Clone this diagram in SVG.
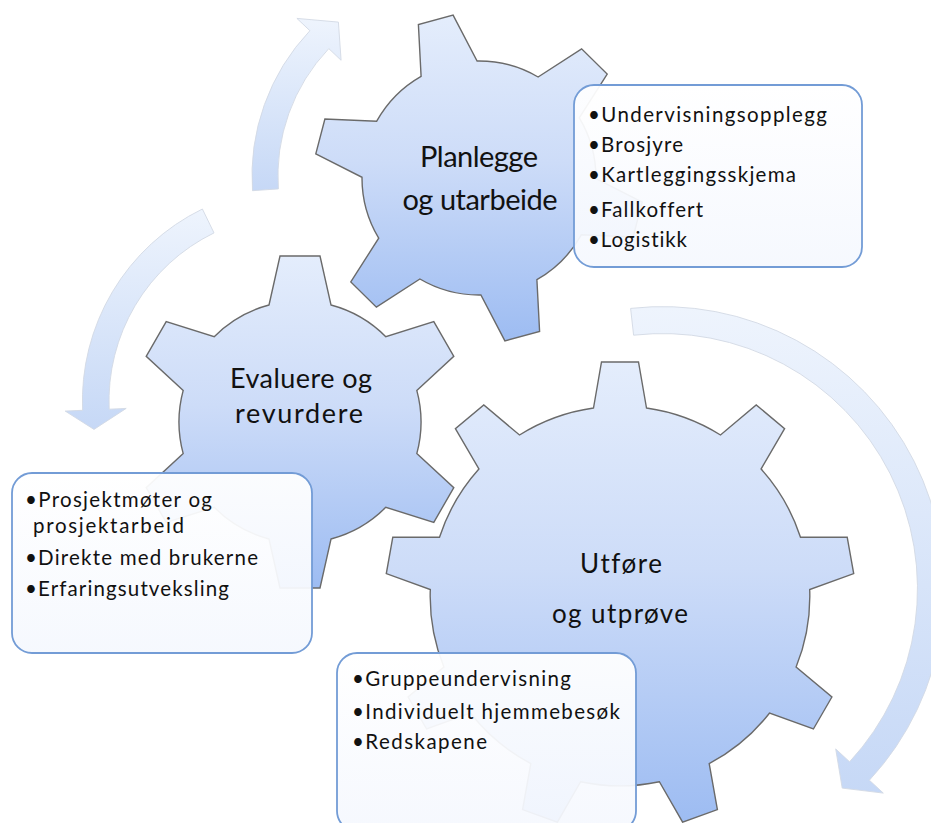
<svg xmlns="http://www.w3.org/2000/svg" width="931" height="823" viewBox="0 0 931 823">
<defs>
<linearGradient id="gearGrad" x1="0" y1="0" x2="0" y2="1">
<stop offset="0" stop-color="#e4edfc"/>
<stop offset="0.45" stop-color="#cddcf8"/>
<stop offset="1" stop-color="#9dbcf2"/>
</linearGradient>
<linearGradient id="arrowGrad" x1="0" y1="0" x2="0" y2="1">
<stop offset="0" stop-color="#eef4fd"/>
<stop offset="1" stop-color="#c6d8f6"/>
</linearGradient>
<linearGradient id="boxGrad" x1="0" y1="0" x2="0" y2="1">
<stop offset="0" stop-color="#ffffff" stop-opacity="0.94"/>
<stop offset="1" stop-color="#f5f8fe" stop-opacity="0.94"/>
</linearGradient>
</defs>
<style>
.gear{fill:url(#gearGrad);stroke:#6a6a6a;stroke-width:1.4;stroke-linejoin:miter}
.arrow{fill:url(#arrowGrad);stroke:#d2d9e4;stroke-width:0.9}
.box{fill:url(#boxGrad);stroke:#739cd6;stroke-width:1.8}
.head{font-family:Lato,"Liberation Sans",sans-serif;fill:#111;text-anchor:middle;font-variant-ligatures:none}
.item{font-family:Lato,"Liberation Sans",sans-serif;font-size:20.5px;fill:#111;font-variant-ligatures:none}
</style>

<g id="connectors">
<path class="arrow" d="M 278.4,188.9 A 185 185 0 0 1 328.8,48.6 L 341.1,60.3 L 338.4,22.1 L 296.9,18.4 L 309.9,30.7 A 211 211 0 0 0 252.5,190.7 Z"/>
<path class="arrow" d="M 202.4,209 A 213.6 213.6 0 0 0 82.6,410.3 L 65.2,411.1 L 94,429.4 L 126.2,408.4 L 109.2,409.2 A 187 187 0 0 1 214,232.9 Z"/>
<path class="arrow" d="M 630.6,308.4 A 282 282 0 0 1 869.4,780.2 L 883.3,793.1 L 842.2,788.1 L 835.7,748.9 L 849.6,761.8 A 255 255 0 0 0 633.6,335.2 Z"/>
</g>

<g id="gear-planlegge">
<path class="gear" d="M 596.0,178.7 L 642.2,202.2 L 633.1,237.0 L 581.3,234.8 A 117 117 0 0 1 536.9,279.7 L 539.6,331.4 L 504.9,340.9 L 480.9,295.0 A 117 117 0 0 1 419.9,279.0 L 376.4,307.2 L 350.8,281.9 L 378.7,238.2 A 117 117 0 0 1 362.0,177.3 L 315.8,153.8 L 324.9,119.0 L 376.7,121.2 A 117 117 0 0 1 421.1,76.3 L 418.4,24.6 L 453.1,15.1 L 477.1,61.0 A 117 117 0 0 1 538.1,77.0 L 581.6,48.8 L 607.2,74.1 L 579.3,117.8 A 117 117 0 0 1 596.0,178.7 Z"/>
<text class="head" x="479" y="167" font-size="29" textLength="118">Planlegge</text>
<text class="head" x="480" y="210" font-size="29" textLength="155">og utarbeide</text>
</g>

<g id="list-planlegge">
<rect class="box" x="574" y="85" width="288" height="182" rx="20" ry="20"/>
<text class="item" x="588" y="121.7" textLength="239">•Undervisningsopplegg</text>
<text class="item" x="588" y="151.7" textLength="95">•Brosjyre</text>
<text class="item" x="588" y="181.7" textLength="208">•Kartleggingsskjema</text>
<text class="item" x="588" y="216.7" textLength="115">•Fallkoffert</text>
<text class="item" x="588" y="246.7" textLength="99">•Logistikk</text>
</g>

<g id="gear-evaluere">
<path class="gear" d="M 269,305 L 280,256 L 320,256 L 331,305 A 121 121 0 0 1 385.8,336.7 L 433.8,321.7 L 453.8,356.3 L 416.8,390.4 A 121 121 0 0 1 416.8,453.6 L 453.8,487.7 L 433.8,522.3 L 385.8,507.3 A 121 121 0 0 1 331,539 L 320,588 L 280,588 L 269,539 A 121 121 0 0 1 214.2,507.3 L 166.2,522.3 L 146.2,487.7 L 183.2,453.6 A 121 121 0 0 1 183.2,390.4 L 146.2,356.3 L 166.2,321.7 L 214.2,336.7 A 121 121 0 0 1 269,305 Z"/>
<text class="head" x="301" y="388" font-size="27" textLength="142">Evaluere og</text>
<text class="head" x="299" y="423" font-size="27" textLength="128">revurdere</text>
</g>

<g id="list-evaluere">
<rect class="box" x="12" y="473" width="300" height="180" rx="20" ry="20"/>
<text class="item" x="25" y="507" textLength="187">•Prosjektmøter og</text>
<text class="item" x="33" y="533" textLength="151">prosjektarbeid</text>
<text class="item" x="25" y="565" textLength="233">•Direkte med brukerne</text>
<text class="item" x="25" y="596" textLength="204">•Erfaringsutveksling</text>
</g>

<g id="gear-utfore">
<path class="gear" d="M 593.5,408 L 601.5,362 L 638.5,362 L 646.5,408 A 190 190 0 0 1 720.5,435.0 L 756.2,404.9 L 784.6,428.6 L 761.1,469.0 A 190 190 0 0 1 800.5,537.3 L 847.2,537.2 L 853.7,573.6 L 809.7,589.5 A 190 190 0 0 1 796.1,667.1 L 831.9,697.0 L 813.4,729.0 L 769.6,713.0 A 190 190 0 0 1 709.2,763.6 L 717.4,809.6 L 682.6,822.2 L 659.4,781.7 A 190 190 0 0 1 580.6,781.7 L 557.4,822.2 L 522.6,809.6 L 530.8,763.6 A 190 190 0 0 1 470.4,713.0 L 426.6,729.0 L 408.1,697.0 L 443.9,667.1 A 190 190 0 0 1 430.3,589.5 L 386.3,573.6 L 392.8,537.2 L 439.5,537.3 A 190 190 0 0 1 478.9,469.0 L 455.4,428.6 L 483.8,404.9 L 519.5,435.0 A 190 190 0 0 1 593.5,408 Z"/>
<text class="head" x="621" y="573" font-size="26" textLength="82">Utføre</text>
<text class="head" x="620" y="623" font-size="26" textLength="136">og utprøve</text>
</g>

<g id="list-utfore">
<rect class="box" x="337" y="653" width="299" height="178" rx="20" ry="20"/>
<text class="item" x="352" y="686" textLength="219">•Gruppeundervisning</text>
<text class="item" x="352" y="719" textLength="268">•Individuelt hjemmebesøk</text>
<text class="item" x="352" y="749" textLength="135">•Redskapene</text>
</g>
</svg>
